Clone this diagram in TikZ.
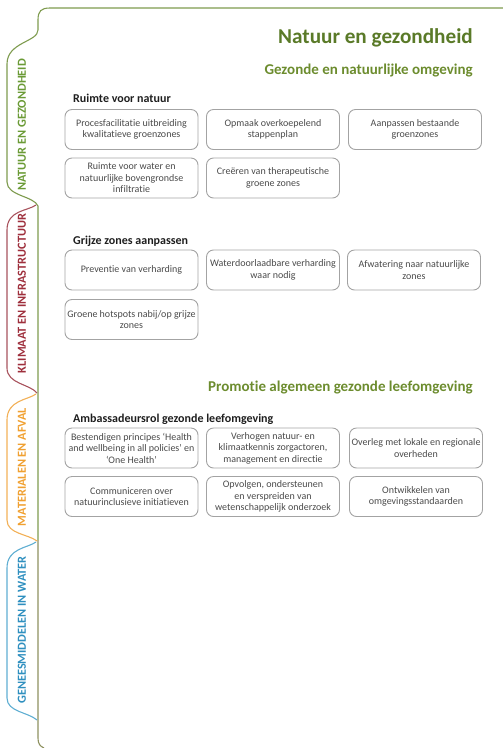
\documentclass[tikz,border=0pt]{standalone}
\usepackage{fontspec}
\setmainfont{Carlito}[Ligatures={TeX,NoCommon}]
\definecolor{titlegreen}{HTML}{5A7A28}
\definecolor{subgreen}{HTML}{6C8C2E}
\definecolor{boxgray}{HTML}{A3A3A3}
\definecolor{boxtext}{HTML}{4A4A4A}
\definecolor{headblack}{HTML}{1E1E1E}
\definecolor{tabgreen}{HTML}{7E9B4E}
\definecolor{labgreen}{HTML}{6A9A35}
\definecolor{tabred}{HTML}{A8535D}
\definecolor{labred}{HTML}{9E2F3C}
\definecolor{taborange}{HTML}{F2B057}
\definecolor{laborange}{HTML}{F0A030}
\definecolor{tabblue}{HTML}{5FAED2}
\definecolor{labblue}{HTML}{2E8FBF}
\definecolor{olive}{HTML}{8E9160}
\begin{document}
\begin{tikzpicture}[x=1pt,y=-1pt,
  box/.style={draw=boxgray, line width=0.9pt, rounded corners=7pt,
    minimum width=133pt, minimum height=40pt, align=center,
    font=\fontsize{10}{11.5}\selectfont, text=boxtext, inner sep=1pt},
  title/.style={anchor=base east, inner sep=0pt, font=\fontsize{21.2}{24}\selectfont\bfseries, text=titlegreen},
  subtitle/.style={anchor=base east, inner sep=0pt, font=\fontsize{15}{18}\selectfont\bfseries, text=subgreen},
  heading/.style={anchor=base west, inner sep=0pt, font=\fontsize{12}{14}\selectfont\bfseries, text=headblack},
  tablabel/.style={rotate=90, inner sep=0pt, font=\fontsize{12.3}{14}\selectfont\bfseries},
  tabline/.style={line width=1.1pt}]
\useasboundingbox (0,0) rectangle (503,748);

% main frame and tabs
\draw[tabline, tabgreen] (503,8) -- (50,8) .. controls (41,8) and (38,11) .. (38,20) -- (38,30)
  .. controls (38,42) and (7,42) .. (7,64) -- (7,182)
  .. controls (7,196) and (34,196) .. (38,206) -- (38,540);
\draw[tabline, olive] (38,540) -- (38,738) .. controls (38,744) and (40,746) .. (44,748);
\draw[tabline, tabred] (36,205) .. controls (28,211) and (7,210) .. (7,230) -- (7,368)
  .. controls (7,384) and (30,384) .. (37,393);
\draw[tabline, taborange] (36,394) .. controls (28,400) and (7,400) .. (7,420) -- (7,520)
  .. controls (7,534) and (28,534) .. (37,541);
\draw[tabline, tabblue] (36,542) .. controls (28,548) and (7,548) .. (7,568) -- (7,698)
  .. controls (7,712) and (28,712) .. (37,720);

\node[tablabel, text=labgreen] (tn) at (22,125) {NATUUR EN GEZONDHEID};
\node[tablabel, text=labred] (tk) at (22,293.5) {KLIMAAT EN INFRASTRUCTUUR};
\node[tablabel, text=laborange] (tm) at (22,467) {MATERIALEN EN AFVAL};
\node[tablabel, text=labblue] (tg) at (22,630) {GENEESMIDDELEN IN WATER};

% titles
\node[title] (t) at (473,43) {Natuur en gezondheid};
\node[subtitle] (s1) at (473,74) {Gezonde en natuurlijke omgeving};
\node[subtitle] (s2) at (473,391) {Promotie algemeen gezonde leefomgeving};

% section 1
\node[heading] (h1) at (73,102) {Ruimte voor natuur};
\node[box] (a1) at (131.5,129.5) {Procesfacilitatie uitbreiding\\kwalitatieve groenzones};
\node[box] (a2) at (273,129.5) {Opmaak overkoepelend\\stappenplan};
\node[box] (a3) at (415,129.5) {Aanpassen bestaande\\groenzones};
\node[box] (a4) at (131.5,178) {Ruimte voor water en\\natuurlijke bovengrondse\\infiltratie};
\node[box] (a5) at (273,178) {Creëren van therapeutische\\groene zones};

% section 2
\node[heading] (h2) at (73,244) {Grijze zones aanpassen};
\node[box] (b1) at (131.5,270) {Preventie van verharding};
\node[box] (b2) at (273,270) {Waterdoorlaadbare verharding\\waar nodig};
\node[box] (b3) at (414,270) {Afwatering naar natuurlijke\\zones};
\node[box] (b4) at (131.5,319.5) {Groene hotspots nabij/op grijze\\zones};

% section 3
\node[heading] (h3) at (73,422) {Ambassadeursrol gezonde leefomgeving};
\node[box] (c1) at (131.5,448) {Bestendigen principes `Health\\and wellbeing in all policies' en\\`One Health'};
\node[box] (c2) at (273,448) {Verhogen natuur- en\\klimaatkennis zorgactoren,\\management en directie};
\node[box] (c3) at (416,448) {Overleg met lokale en regionale\\overheden};
\node[box] (c4) at (131.5,496.5) {Communiceren over\\natuurinclusieve initiatieven};
\node[box] (c5) at (273,496.5) {Opvolgen, ondersteunen\\en verspreiden van\\wetenschappelijk onderzoek};
\node[box] (c6) at (416,496.5) {Ontwikkelen van\\omgevingsstandaarden};
\end{tikzpicture}
\end{document}
